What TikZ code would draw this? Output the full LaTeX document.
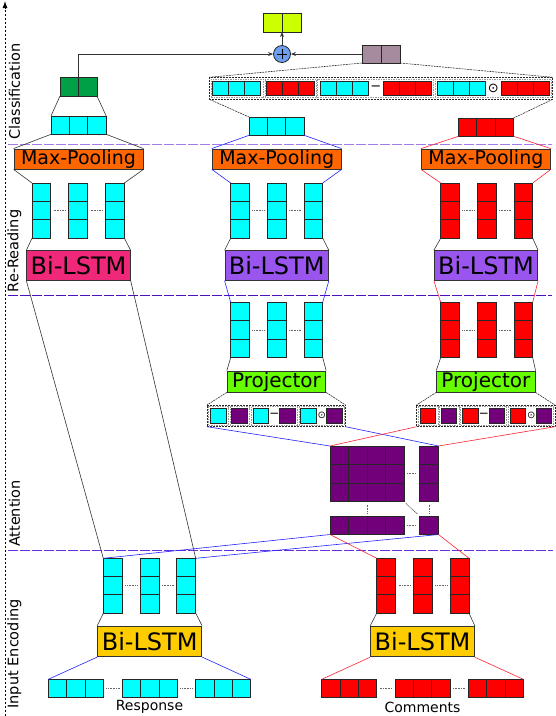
\documentclass[tikz,border=0pt]{standalone}
\usepackage{fontspec}
\setmainfont{DejaVu Sans}
\usetikzlibrary{arrows.meta}

\definecolor{ccyan}{HTML}{00FFFF}
\definecolor{cred}{HTML}{FF0000}
\definecolor{cpurp}{HTML}{71007A}
\definecolor{cgreen}{HTML}{00A046}
\definecolor{cyell}{HTML}{CCFF00}
\definecolor{cgray}{HTML}{A68A9E}
\definecolor{corange}{HTML}{FF6600}
\definecolor{cpink}{HTML}{F0287A}
\definecolor{cviolet}{HTML}{9955EE}
\definecolor{cproj}{HTML}{66FF00}
\definecolor{cgold}{HTML}{FFCC00}
\definecolor{ccirc}{HTML}{6C9FF0}
\definecolor{cblue}{HTML}{2222FF}
\definecolor{cline}{HTML}{FF2233}
\definecolor{sepA}{HTML}{A07CE8}
\definecolor{sepB}{HTML}{4A10C0}
\definecolor{sepC}{HTML}{6A30E0}

% name, x, y (top-left), cols, rows, cell w, cell h, colour
\newcommand{\cellgrid}[8]{%
  \foreach \ci in {1,...,#4}{\foreach \ri in {1,...,#5}{%
    \draw[cellline, fill=#8] ({#2+(\ci-1)*#6},{#3+(\ri-1)*#7}) rectangle ++(#6,#7);}}%
  \node[gridbox, minimum width={#4*#6*1pt}, minimum height={#5*#7*1pt}] (#1) at (#2,#3) {};%
}
% name, x1, y1, x2, y2
\newcommand{\dbxnode}[5]{%
  \node[innerdash, minimum width={((#4)-(#2))*1pt}, minimum height={((#5)-(#3))*1pt}] (#1) at (#2,#3) {};%
}
% prefix, dx, colour
\newcommand{\smallcont}[3]{%
  \node[dashst, minimum width=138.5pt, minimum height=21.7pt] (#1ct) at (207+#2,405) {};
  \dbxnode{#1ga}{208.6+#2}{406.7}{228.4+#2}{424.9}
  \dbxnode{#1gb}{229.8+#2}{406.7}{249.6+#2}{424.9}
  \dbxnode{#1gc}{251.2+#2}{406.7}{297+#2}{424.9}
  \dbxnode{#1gd}{298.8+#2}{406.7}{343.8+#2}{424.9}
  \cellgrid{#1a}{210.5+#2}{408.5}{1}{1}{15.6}{14.6}{#3}
  \cellgrid{#1b}{231.7+#2}{408.5}{1}{1}{15.6}{14.6}{cpurp}
  \cellgrid{#1c}{253.2+#2}{408.5}{1}{1}{15.6}{14.6}{#3}
  \node[opst] (#1m) at (274.3+#2,415.6) {−};
  \cellgrid{#1d}{279.5+#2}{408.5}{1}{1}{15.6}{14.6}{cpurp}
  \cellgrid{#1e}{300.8+#2}{408.5}{1}{1}{15.6}{14.6}{#3}
  \node[opst, font=\fontsize{10}{10}\selectfont] (#1o) at (321.8+#2,415.6) {⊙};
  \cellgrid{#1f}{326.6+#2}{408.5}{1}{1}{15.6}{14.6}{cpurp}
}

\begin{document}
\begin{tikzpicture}[x=1pt,y=-1pt,
  cellline/.style={draw=black!85, line width=0.9pt},
  gridbox/.style={inner sep=0pt, outer sep=0pt, anchor=north west, draw=none},
  conn/.style={draw=black!80, line width=0.6pt},
  dconn/.style={draw=black!80, line width=0.6pt, dash pattern=on 2pt off 0.8pt},
  bconn/.style={draw=cblue, line width=0.6pt},
  rconn/.style={draw=cline, line width=0.6pt},
  sepdots/.style={draw=black!60, line width=0.8pt, dash pattern=on 1pt off 0.6pt},
  dashst/.style={draw=black!85, line width=0.7pt, dash pattern=on 2pt off 1pt, inner sep=0pt, outer sep=0pt, anchor=north west},
  innerdash/.style={draw=black!40, line width=0.6pt, dash pattern=on 1.5pt off 1pt, inner sep=0pt, outer sep=0pt, anchor=north west},
  mpbox/.style={draw=black!80, fill=corange, line width=0.8pt, minimum width=129pt, minimum height=20pt, inner sep=0pt, font=\fontsize{19}{20}\selectfont},
  bibox/.style={draw=black!80, line width=0.8pt, minimum width=103.5pt, minimum height=29.5pt, inner sep=0pt, font=\fontsize{24}{26}\selectfont},
  projbox/.style={draw=black!80, fill=cproj, line width=0.8pt, minimum width=98.5pt, minimum height=21pt, inner sep=0pt, font=\fontsize{20}{22}\selectfont},
  sidelabel/.style={rotate=90, font=\fontsize{14.5}{16}\selectfont, inner sep=0pt},
  captext/.style={font=\fontsize{14}{16}\selectfont, inner sep=0pt},
  opst/.style={inner sep=0pt, font=\fontsize{12}{12}\selectfont},
  sepline/.style={line width=1pt, dash pattern=on 10pt off 2pt},
  tipst/.style={-{Stealth[length=5pt,width=4pt]}},
]
\useasboundingbox (0,0) rectangle (556,716);

% ---------- axis and separators ----------
\coordinate (axb) at (5,716);
\coordinate (axt) at (5,1);
\draw[line width=0.9pt, dash pattern=on 2.5pt off 1.5pt, -{Latex[length=7pt,width=5pt]}] (axb) -- (axt);
\coordinate (s1l) at (8,144);  \coordinate (s1r) at (552,144);
\coordinate (s2l) at (8,295);  \coordinate (s2r) at (552,295);
\coordinate (s3l) at (8,550);  \coordinate (s3r) at (553,550);
\draw[sepline, draw=sepA] (s1l) -- (s1r);
\draw[sepline, draw=sepB] (s2l) -- (s2r);
\draw[sepline, draw=sepC] (s3l) -- (s3r);

\node[sidelabel] (labA) at (14.5,91.5) {Classification};
\node[sidelabel] (labB) at (14.5,251) {Re-Reading};
\node[sidelabel] (labC) at (14.5,513.5) {Attention};
\node[sidelabel] (labD) at (14.5,654) {Input Encoding};

% ---------- classification ----------
\cellgrid{Yel}{263}{13}{2}{1}{19}{19}{cyell}
\node[circle, draw=black!85, line width=0.8pt, fill=ccirc, minimum size=17pt, inner sep=0pt] (plus) at (282,54) {};
\draw[line width=0.9pt] ([xshift=-5pt]plus.center) -- ([xshift=5pt]plus.center);
\draw[line width=0.9pt] ([yshift=-5pt]plus.center) -- ([yshift=5pt]plus.center);
\cellgrid{Gry}{362}{45}{2}{1}{19}{18}{cgray}
\cellgrid{Lgreen}{60}{77}{2}{1}{18.5}{19}{cgreen}

\node[dashst, minimum width=343.4pt, minimum height=22pt] (Cct) at (209.3,77.3) {};
\dbxnode{Cga}{211}{79}{263.4}{97.6}
\dbxnode{Cgb}{264.8}{79}{316.2}{97.6}
\dbxnode{Cgc}{317.6}{79}{433.2}{97.6}
\dbxnode{Cgd}{434.8}{79}{551}{97.6}
\cellgrid{Cca}{212.7}{81}{3}{1}{16}{14.7}{ccyan}
\cellgrid{Crb}{266}{81}{3}{1}{16}{14.7}{cred}
\cellgrid{Ccc}{320}{81}{3}{1}{16}{14.7}{ccyan}
\node[opst, font=\fontsize{13}{13}\selectfont] (Cmin) at (375.7,88.3) {−};
\cellgrid{Crd}{383.3}{81}{3}{1}{16}{14.7}{cred}
\cellgrid{Cce}{437.7}{81}{3}{1}{16}{14.7}{ccyan}
\node[opst, font=\fontsize{13}{13}\selectfont] (Codot) at (493.3,88.3) {⊙};
\cellgrid{Crf}{501}{81}{3}{1}{16}{14.7}{cred}

\draw[conn, line width=0.9pt, tipst] (Lgreen.north) |- (plus.west);
\draw[conn, line width=0.9pt, tipst] (Gry.west) -- (plus.east);
\draw[conn, line width=0.9pt, tipst] (plus.north) -- (Yel.south);

% ---------- re-reading ----------
\cellgrid{Lctop}{51}{116}{3}{1}{18.4}{18.3}{ccyan}
\cellgrid{Mctop}{249}{117}{3}{1}{18.4}{18.3}{ccyan}
\cellgrid{Rrtop}{458.5}{118}{3}{1}{18.4}{18.3}{cred}

\node[mpbox] (LMP) at (78.5,159) {Max-Pooling};
\node[mpbox] (MMP) at (276.7,159) {Max-Pooling};
\node[mpbox] (RMP) at (485.9,159) {Max-Pooling};

\cellgrid{Lc1}{32}{183}{1}{3}{18.6}{18.4}{ccyan}
\cellgrid{Lc2}{68.9}{183}{1}{3}{18.6}{18.4}{ccyan}
\cellgrid{Lc3}{105.8}{183}{1}{3}{18.6}{18.4}{ccyan}
\cellgrid{Mc1}{230.7}{183}{1}{3}{18.6}{18.4}{ccyan}
\cellgrid{Mc2}{267.4}{183}{1}{3}{18.6}{18.4}{ccyan}
\cellgrid{Mc3}{304.1}{183}{1}{3}{18.6}{18.4}{ccyan}
\cellgrid{Rc1}{440.7}{183}{1}{3}{18.6}{18.4}{cred}
\cellgrid{Rc2}{477.4}{183}{1}{3}{18.6}{18.4}{cred}
\cellgrid{Rc3}{514.1}{183}{1}{3}{18.6}{18.4}{cred}

\node[bibox, fill=cpink] (LBi) at (78.5,265.5) {Bi-LSTM};
\node[bibox, fill=cviolet] (MBi) at (276.7,265.5) {Bi-LSTM};
\node[bibox, fill=cviolet] (RBi) at (486,265.5) {Bi-LSTM};

\cellgrid{Mp1}{230.7}{302.3}{1}{3}{18.6}{18.4}{ccyan}
\cellgrid{Mp2}{267.4}{302.3}{1}{3}{18.6}{18.4}{ccyan}
\cellgrid{Mp3}{304.1}{302.3}{1}{3}{18.6}{18.4}{ccyan}
\cellgrid{Rp1}{440.7}{302.3}{1}{3}{18.6}{18.4}{cred}
\cellgrid{Rp2}{477.4}{302.3}{1}{3}{18.6}{18.4}{cred}
\cellgrid{Rp3}{514.1}{302.3}{1}{3}{18.6}{18.4}{cred}

\node[projbox] (MPj) at (276.5,381.5) {Projector};
\node[projbox] (RPj) at (485.9,381.5) {Projector};

\smallcont{M}{0}{ccyan}
\smallcont{R}{209.5}{cred}

% ---------- attention ----------
\cellgrid{Amat}{330}{446}{4}{3}{18.5}{18.5}{cpurp}
\cellgrid{Acol}{419.5}{446}{1}{3}{19}{18.5}{cpurp}
\cellgrid{Arow}{330}{516}{4}{1}{18.5}{18.5}{cpurp}
\cellgrid{Aone}{419.5}{516}{1}{1}{19}{18.5}{cpurp}

% ---------- input encoding ----------
\cellgrid{Bc1}{103.3}{558.3}{1}{3}{19}{18.3}{ccyan}
\cellgrid{Bc2}{140}{558.3}{1}{3}{19}{18.3}{ccyan}
\cellgrid{Bc3}{176.7}{558.3}{1}{3}{19}{18.3}{ccyan}
\cellgrid{Br1}{376.7}{558.3}{1}{3}{19}{18.3}{cred}
\cellgrid{Br2}{413.3}{558.3}{1}{3}{19}{18.3}{cred}
\cellgrid{Br3}{450}{558.3}{1}{3}{19}{18.3}{cred}

\node[bibox, fill=cgold, minimum width=104pt, minimum height=30.5pt] (BBi) at (149.7,641.4) {Bi-LSTM};
\node[bibox, fill=cgold, minimum width=104pt, minimum height=30.5pt] (CBi) at (422.5,641.6) {Bi-LSTM};

\cellgrid{resp1}{48.3}{679.3}{3}{1}{18.35}{18.4}{ccyan}
\cellgrid{resp2}{122.3}{679.3}{3}{1}{18.35}{18.4}{ccyan}
\cellgrid{resp3}{195.7}{679.3}{3}{1}{18.35}{18.4}{ccyan}
\cellgrid{com1}{321.7}{679.3}{3}{1}{18.35}{18.4}{cred}
\cellgrid{com2}{395}{679.3}{3}{1}{18.35}{18.4}{cred}
\cellgrid{com3}{468.3}{679.3}{3}{1}{18.35}{18.4}{cred}
\node[captext] (respT) at (149.5,707) {Response};
\node[captext] (comT) at (422.5,707) {Comments};

% ---------- dotted separators ----------
\foreach \a/\b in {Lc1/Lc2,Lc2/Lc3,Mc1/Mc2,Mc2/Mc3,Rc1/Rc2,Rc2/Rc3,Mp1/Mp2,Mp2/Mp3,Rp1/Rp2,Rp2/Rp3,Bc1/Bc2,Bc2/Bc3,Br1/Br2,Br2/Br3,resp1/resp2,resp2/resp3,com1/com2,com2/com3,Amat/Acol,Arow/Aone}
  {\draw[sepdots] ([xshift=3pt]\a.east) -- ([xshift=-3pt]\b.west);}
\draw[sepdots] ([yshift=-3pt]Amat.south) -- ([yshift=3pt]Arow.north);
\draw[sepdots] ([yshift=-3pt]Acol.south) -- ([yshift=3pt]Aone.north);
\draw[sepdots] ([shift={(2pt,-2pt)}]Amat.south east) -- ([shift={(-2pt,2pt)}]Aone.north west);

% ---------- connectors ----------
\draw[conn] (Lgreen.south west) -- (Lctop.north west);
\draw[conn] (Lgreen.south east) -- (Lctop.north east);
\draw[conn] (Lctop.south west) -- (LMP.north west);
\draw[conn] (Lctop.south east) -- (LMP.north east);
\draw[conn] (LMP.south west) -- (Lc1.north west);
\draw[conn] (LMP.south east) -- (Lc3.north east);
\draw[conn] (Lc1.south west) -- (LBi.north west);
\draw[conn] (Lc3.south east) -- (LBi.north east);
\draw[conn] (LBi.south west) -- (Bc1.north west);
\draw[conn] (LBi.south east) -- (Bc3.north east);

\draw[dconn] (Cct.south west) -- (Mctop.north west);
\draw[dconn] (Cct.south east) -- (Rrtop.north east);
\draw[dconn] (Cct.north west) -- (Gry.south west);
\draw[dconn] (Cct.north east) -- (Gry.south east);

\draw[bconn] (Mctop.south west) -- (MMP.north west);
\draw[bconn] (Mctop.south east) -- (MMP.north east);
\draw[bconn] (MMP.south west) -- (Mc1.north west);
\draw[bconn] (MMP.south east) -- (Mc3.north east);
\draw[conn] (Mc1.south west) -- (MBi.north west);
\draw[conn] (Mc3.south east) -- (MBi.north east);
\draw[bconn] (MBi.south west) -- (Mp1.north west);
\draw[bconn] (MBi.south east) -- (Mp3.north east);
\draw[conn] (Mp1.south west) -- (MPj.north west);
\draw[conn] (Mp3.south east) -- (MPj.north east);
\draw[dconn] (MPj.south west) -- (Mct.north west);
\draw[dconn] (MPj.south east) -- (Mct.north east);
\draw[bconn] (Mct.south west) -- (Amat.north west);
\draw[bconn] (Mct.south east) -- (Acol.north east);

\draw[rconn] (Rrtop.south west) -- (RMP.north west);
\draw[rconn] (Rrtop.south east) -- (RMP.north east);
\draw[rconn] (RMP.south west) -- (Rc1.north west);
\draw[rconn] (RMP.south east) -- (Rc3.north east);
\draw[conn] (Rc1.south west) -- (RBi.north west);
\draw[conn] (Rc3.south east) -- (RBi.north east);
\draw[rconn] (RBi.south west) -- (Rp1.north west);
\draw[rconn] (RBi.south east) -- (Rp3.north east);
\draw[conn] (Rp1.south west) -- (RPj.north west);
\draw[conn] (Rp3.south east) -- (RPj.north east);
\draw[dconn] (RPj.south west) -- (Rct.north west);
\draw[dconn] (RPj.south east) -- (Rct.north east);
\draw[rconn] (Rct.south west) -- (Amat.north west);
\draw[rconn] (Rct.south east) -- (Acol.north east);

\draw[bconn] (Arow.south west) -- (Bc1.north west);
\draw[bconn] (Aone.south east) -- (Bc3.north east);
\draw[rconn] (Arow.south west) -- (Br1.north west);
\draw[rconn] (Aone.south east) -- (Br3.north east);

\draw[conn] (Bc1.south west) -- (BBi.north west);
\draw[conn] (Bc3.south east) -- (BBi.north east);
\draw[conn] (Br1.south west) -- (CBi.north west);
\draw[conn] (Br3.south east) -- (CBi.north east);
\draw[bconn] (BBi.south west) -- (resp1.north west);
\draw[bconn] (BBi.south east) -- (resp3.north east);
\draw[rconn] (CBi.south west) -- (com1.north west);
\draw[rconn] (CBi.south east) -- (com3.north east);
\end{tikzpicture}
\end{document}
